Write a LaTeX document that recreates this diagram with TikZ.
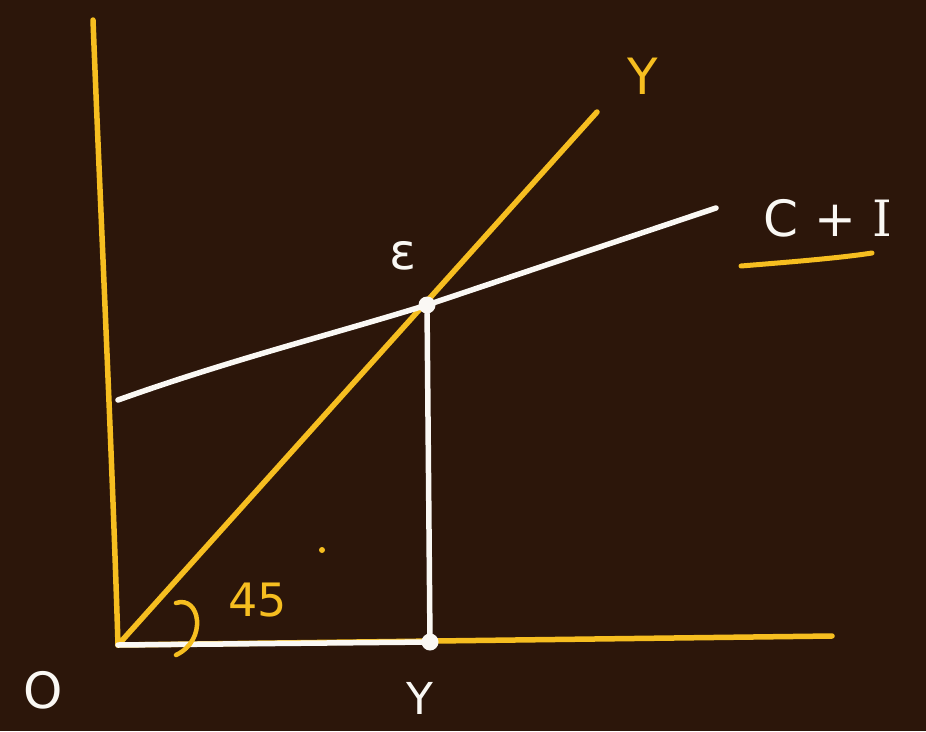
\documentclass[tikz,border=0pt]{standalone}
\usepackage{fontspec}
\setmainfont{DejaVu Sans}
\newfontfamily\serifI{DejaVu Serif}
\definecolor{board}{RGB}{44,22,10}
\definecolor{chalky}{RGB}{246,190,32}
\definecolor{chalkw}{RGB}{250,248,244}
\tikzset{
  yline/.style={draw=chalky,line width=5.5pt,line cap=round},
  wline/.style={draw=chalkw,line width=5.5pt,line cap=round},
  wlabel/.style={text=chalkw,font=\fontsize{50}{50}\selectfont},
  ylabel/.style={text=chalky,font=\fontsize{50}{50}\selectfont},
  dotw/.style={circle,fill=chalkw,inner sep=0pt,minimum size=17pt}
}
\begin{document}
\begin{tikzpicture}[x=1pt,y=-1pt]
\fill[board] (0,0) rectangle (926,731);
\useasboundingbox (0,0) rectangle (926,731);
% coordinates
\coordinate (O) at (118,645);
\coordinate (ytop) at (93,20);
\coordinate (xend) at (832,636);
\coordinate (diag) at (597,112);
\coordinate (ci0) at (118,400);
\coordinate (ci1) at (716,208);
\coordinate (Yx) at (430,642);
% axes
\draw[yline] (ytop) .. controls (100,200) and (112,450) .. (O);
\draw[yline] (O) -- (xend);
\draw[yline] (O) -- (diag);
% C+I line
\draw[wline] (ci0) .. controls (230,360) and (330,335) .. (427,305) -- (ci1);
\node[dotw] (E) at (427,305) {};
\draw[wline] (E) -- (Yx);
\draw[wline] (O) -- (Yx);
\node[dotw] (Yd) at (Yx) {};
% 45 degree arc
\draw[yline,line width=4.5pt] (176,603) .. controls (200,595) and (208,640) .. (176,655);
\node[ylabel,font=\fontsize{46}{46}\selectfont] (ang) at (258,600) {45};
\node[circle,fill=chalky,inner sep=0pt,minimum size=6pt] (deg) at (322,550) {};
% labels
\node[ylabel] (ylab) at (643,76) {Y};
\node[wlabel] (elab) at (403,256) {ε};
\node[wlabel] (cilab) at (828,218) {C + {\serifI I}};
\draw[yline,line width=5pt] (741,266) .. controls (790,262) and (840,258) .. (872,253);
\node[wlabel] (olab) at (43,690) {O};
\node[wlabel,font=\fontsize{44}{44}\selectfont] (Ylab) at (420,698) {Y};
\end{tikzpicture}
\end{document}
